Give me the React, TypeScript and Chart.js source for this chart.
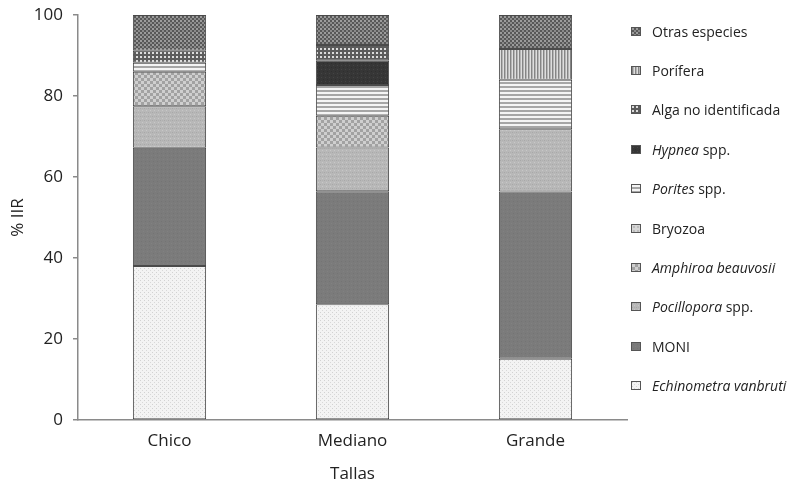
import React, { useEffect, useRef, useMemo } from "react";
import { Chart, registerables } from "chart.js";

Chart.register(...registerables);

// ---- data ----
const categories = ["Chico", "Mediano", "Grande"];
const echinometra = [38.0, 28.6, 15.1];
const moni = [29.2, 27.9, 41.3];
const pocillopora = [10.3, 10.8, 15.4];
const amphiroa = [8.5, 7.8, 0];
const bryozoa = [0, 0, 0];
const porites = [2.2, 7.6, 12.2];
const hypnea = [0, 6.0, 0];
const alga = [3.0, 3.9, 0];
const porifera = [0, 0, 7.6];
const otras = [8.8, 7.4, 8.4];
const yTicks = [0, 20, 40, 60, 80, 100];

type Part = { text: string; italic?: boolean };

const seriesDefs: { key: string; label: Part[]; data: number[]; pattern: string }[] = [
  { key: "echin", label: [{ text: "Echinometra", italic: true }, { text: " " }, { text: "vanbruti", italic: true }], data: echinometra, pattern: "echin" },
  { key: "moni", label: [{ text: "MONI" }], data: moni, pattern: "moni" },
  { key: "pocil", label: [{ text: "Pocillopora", italic: true }, { text: " spp." }], data: pocillopora, pattern: "pocil" },
  { key: "amph", label: [{ text: "Amphiroa beauvosii", italic: true }], data: amphiroa, pattern: "amph" },
  { key: "bryo", label: [{ text: "Bryozoa" }], data: bryozoa, pattern: "bryo" },
  { key: "porites", label: [{ text: "Porites", italic: true }, { text: " spp." }], data: porites, pattern: "porites" },
  { key: "hypnea", label: [{ text: "Hypnea", italic: true }, { text: " spp." }], data: hypnea, pattern: "hypnea" },
  { key: "alga", label: [{ text: "Alga no identificada" }], data: alga, pattern: "alga" },
  { key: "porifera", label: [{ text: "Porífera" }], data: porifera, pattern: "porifera" },
  { key: "otras", label: [{ text: "Otras especies" }], data: otras, pattern: "otras" },
];

function makeTile(kind: string): HTMLCanvasElement {
  const c = document.createElement("canvas");
  const g = c.getContext("2d")!;
  const px = (x: number, y: number, w: number, h: number, col: string) => {
    g.fillStyle = col;
    g.fillRect(x, y, w, h);
  };
  switch (kind) {
    case "echin":
      c.width = 4; c.height = 4;
      px(0, 0, 4, 4, "#f3f3f3");
      px(0, 0, 1, 1, "#d2d2d2");
      px(2, 2, 1, 1, "#d8d8d8");
      break;
    case "moni":
      c.width = 4; c.height = 4;
      px(0, 0, 4, 4, "#7b7b7b");
      px(1, 1, 1, 1, "#747474");
      px(3, 3, 1, 1, "#818181");
      break;
    case "pocil":
      c.width = 4; c.height = 4;
      px(0, 0, 4, 4, "#b8b8b8");
      px(0, 0, 1, 1, "#a8a8a8");
      px(2, 2, 1, 1, "#c8c8c8");
      px(2, 0, 1, 1, "#b0b0b0");
      break;
    case "amph":
      c.width = 6; c.height = 6;
      px(0, 0, 6, 6, "#a2a2a2");
      px(0, 0, 3, 3, "#cfcfcf");
      px(3, 3, 3, 3, "#cfcfcf");
      break;
    case "bryo":
      c.width = 4; c.height = 4;
      px(0, 0, 4, 4, "#d6d6d6");
      px(1, 1, 2, 2, "#bcbcbc");
      break;
    case "porites":
      c.width = 4; c.height = 4;
      px(0, 0, 4, 4, "#f4f4f4");
      px(0, 2, 4, 2, "#a6a6a6");
      break;
    case "hypnea":
      c.width = 4; c.height = 4;
      px(0, 0, 4, 4, "#363636");
      px(1, 1, 1, 1, "#444444");
      px(3, 3, 1, 1, "#2e2e2e");
      break;
    case "alga":
      c.width = 4; c.height = 4;
      px(0, 0, 4, 4, "#5c5c5c");
      px(0, 0, 2, 2, "#dcdcdc");
      break;
    case "porifera":
      c.width = 3; c.height = 1;
      px(0, 0, 3, 1, "#b5b5b5");
      px(0, 0, 1, 1, "#858585");
      px(2, 0, 1, 1, "#dedede");
      break;
    case "otras":
    default:
      c.width = 4; c.height = 4;
      px(0, 0, 4, 4, "#585858");
      px(0, 0, 2, 2, "#9c9c9c");
      px(2, 2, 2, 2, "#8a8a8a");
      break;
  }
  return c;
}

const TEXT = "#222222";
const AXIS = "#8a8a8a";
const FONT = "'Open Sans', 'Noto Sans', sans-serif";

export default function App() {
  const canvasRef = useRef<HTMLCanvasElement | null>(null);

  const tiles = useMemo(() => {
    const m: Record<string, HTMLCanvasElement> = {};
    seriesDefs.forEach((s) => (m[s.pattern] = makeTile(s.pattern)));
    return m;
  }, []);

  const tileUrls = useMemo(() => {
    const m: Record<string, string> = {};
    Object.keys(tiles).forEach((k) => (m[k] = tiles[k].toDataURL()));
    return m;
  }, [tiles]);

  useEffect(() => {
    const canvas = canvasRef.current;
    if (!canvas) return;
    const ctx = canvas.getContext("2d")!;
    const datasets = seriesDefs.map((s) => ({
      label: s.label.map((p) => p.text).join(""),
      data: s.data,
      backgroundColor: ctx.createPattern(tiles[s.pattern], "repeat") as any,
      borderColor: "#4a4a4a",
      borderWidth: (c: any) => (c.raw ? 1 : 0),
      borderSkipped: false as const,
      barPercentage: 0.4,
      categoryPercentage: 1,
    }));
    const chart = new Chart(canvas, {
      type: "bar",
      data: { labels: categories, datasets },
      options: {
        animation: false,
        responsive: false,
        devicePixelRatio: 1,
        layout: { padding: { left: 0, right: 170, top: 15, bottom: 0 } },
        plugins: { legend: { display: false }, tooltip: { enabled: false } },
        scales: {
          x: {
            stacked: true,
            offset: true,
            grid: { display: false, drawTicks: false },
            border: { display: true, color: AXIS, width: 1.5 },
            ticks: { color: TEXT, font: { family: FONT, size: 17 }, padding: 11 },
            title: { display: true, text: "Tallas", color: TEXT, font: { family: FONT, size: 17 }, padding: { top: 0, bottom: 3 } },
            afterFit: (s: any) => { s.height = 67; s.paddingLeft = 0; s.paddingRight = 0; },
          },
          y: {
            stacked: true,
            min: 0,
            max: 100,
            afterBuildTicks: (s: any) => { s.ticks = yTicks.map((v) => ({ value: v })); },
            grid: { display: true, drawOnChartArea: false, drawTicks: true, tickLength: 5, color: AXIS, lineWidth: 1.5 },
            border: { display: true, color: AXIS, width: 1.5 },
            ticks: { color: TEXT, font: { family: FONT, size: 17 }, padding: 10 },
            title: { display: true, text: "% IIR", color: TEXT, font: { family: FONT, size: 17 }, padding: { top: 8, bottom: 0 } },
            afterFit: (s: any) => { s.width = 78; s.paddingTop = 0; s.paddingBottom = 0; },
          },
        },
      },
    });
    return () => chart.destroy();
  }, [tiles]);

  const legendItems = [...seriesDefs].reverse();

  return (
    <div style={{ position: "absolute", left: 0, top: 0, width: 797, height: 487, background: "#fff", overflow: "hidden" }}>
      <canvas ref={canvasRef} width={797} height={487} style={{ position: "absolute", left: 0, top: 0 }} />
      {legendItems.map((s, i) => (
        <div
          key={s.key}
          style={{
            position: "absolute",
            left: 631,
            top: 31 + i * 39.4 - 10,
            height: 20,
            display: "flex",
            alignItems: "center",
            fontFamily: FONT,
            fontSize: 14,
            color: TEXT,
            whiteSpace: "nowrap",
          }}
        >
          <span
            style={{
              display: "inline-block",
              width: 8,
              height: 7,
              border: "1px solid #555",
              backgroundImage: `url(${tileUrls[s.pattern]})`,
              marginRight: 11,
            }}
          />
          <span>
            {s.label.map((p, j) => (
              <span key={j} style={{ fontStyle: p.italic ? "italic" : "normal" }}>{p.text}</span>
            ))}
          </span>
        </div>
      ))}
    </div>
  );
}
